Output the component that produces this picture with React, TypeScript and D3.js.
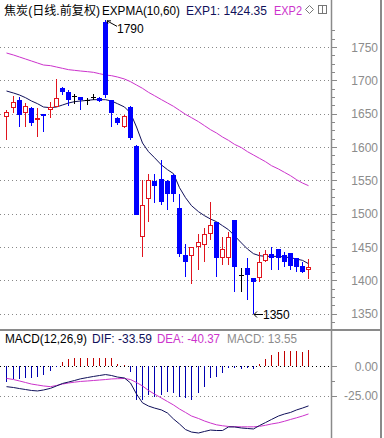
import React from 'react';
import * as d3 from 'd3';

const opens = [1645, 1659, 1670, 1651, 1658, 1642, 1650, 1655, 1660, 1688, 1683, 1676, 1675, 1670, 1675, 1673, 1788, 1670, 1643, 1630, 1660, 1601, 1465, 1522, 1549, 1552, 1549, 1558, 1508, 1438, 1437, 1450, 1453, 1469, 1488, 1433, 1433, 1490, 1408, 1418, 1403, 1403, 1429, 1439, 1447, 1438, 1441, 1433, 1421, 1415];
const highs = [1655, 1677, 1675, 1666, 1660, 1658, 1650, 1668, 1702, 1690, 1685, 1680, 1675, 1674, 1680, 1675, 1790, 1670, 1645, 1648, 1662, 1603, 1550, 1560, 1560, 1580, 1550, 1560, 1530, 1455, 1450, 1470, 1478, 1518, 1488, 1465, 1473, 1490, 1418, 1433, 1403, 1443, 1445, 1450, 1447, 1443, 1441, 1433, 1428, 1432];
const lows = [1610, 1651, 1630, 1630, 1631, 1615, 1623, 1643, 1660, 1678, 1661, 1665, 1656, 1663, 1670, 1667, 1673, 1630, 1633, 1628, 1610, 1498, 1435, 1488, 1516, 1513, 1505, 1518, 1435, 1405, 1395, 1415, 1428, 1460, 1405, 1423, 1423, 1383, 1383, 1370, 1350, 1398, 1428, 1415, 1415, 1420, 1415, 1413, 1411, 1402];
const closes = [1653, 1668, 1648, 1661, 1636, 1643, 1647, 1660, 1673, 1683, 1670, 1676, 1670, 1670, 1675, 1669, 1678, 1651, 1636, 1647, 1613, 1498, 1513, 1551, 1542, 1517, 1530, 1530, 1440, 1428, 1450, 1458, 1470, 1483, 1433, 1447, 1465, 1420, 1408, 1408, 1398, 1428, 1439, 1433, 1433, 1428, 1421, 1420, 1413, 1420];

const exp1 = [1684, 1681, 1678, 1674, 1669, 1665, 1660, 1659, 1660, 1663, 1666, 1668, 1669, 1670, 1671, 1671, 1671, 1669, 1665, 1660, 1651, 1630, 1606, 1593, 1584, 1573, 1566, 1560, 1539, 1524, 1512, 1503, 1497, 1492, 1488, 1482, 1476, 1467, 1456, 1447, 1440, 1437, 1436, 1436, 1436, 1435, 1434, 1432, 1430, 1425];
const exp2 = [1741, 1738, 1735, 1732, 1729, 1726, 1723, 1722, 1720, 1718, 1716, 1715, 1714, 1713, 1712, 1710, 1708, 1707, 1705, 1702, 1698, 1693, 1688, 1682, 1677, 1671, 1666, 1661, 1655, 1649, 1644, 1638, 1632, 1626, 1621, 1615, 1610, 1604, 1599, 1593, 1588, 1583, 1578, 1572, 1567, 1562, 1557, 1551, 1546, 1542];

const dif = [-17.4, -18.1, -19, -19.8, -20.6, -21, -20.2, -18.8, -16.8, -14.7, -13.5, -12.2, -10.8, -9.7, -8.8, -8, -7.2, -8, -9.3, -10.1, -14.3, -23.6, -31, -33.7, -35.4, -37, -39.6, -44.6, -48.8, -53.5, -55.6, -56.4, -55.1, -53.9, -54.3, -54.3, -51.3, -51.3, -52.2, -52.6, -53, -50.1, -47.6, -45, -42.1, -40.4, -39.1, -37, -35.4, -33.59];
const dea = [-10.4, -11.4, -12.6, -13.9, -15.2, -16, -16.8, -17.4, -16.4, -15.2, -14.3, -13.6, -13, -12.6, -12.2, -11.8, -11.4, -10.9, -10.7, -10.5, -11.4, -13.9, -16.8, -20.6, -23.6, -27, -29.9, -32.8, -36.2, -39.1, -42.1, -44.2, -46.3, -48, -49.5, -50.3, -50.9, -51.1, -51.2, -51.2, -51.2, -50.8, -49.9, -48.8, -47.8, -46.5, -45, -43.6, -42.1, -40.37];
const macdHist = [-13.2, -11.2, -11.2, -9.8, -10.4, -9, -7.6, -4.2, -0.8, 3.7, 5.6, 6.5, 6.5, 6.5, 6.5, 7, 7, 6.5, 2, 0.5, -4.8, -28.6, -28.6, -24.4, -25.8, -24.4, -21.6, -23, -25.8, -27.2, -28.6, -23, -17.4, -10.4, -9, -6.2, -2, -2, -2.8, -2, -2.8, 1.4, 5.9, 9.3, 12, 12.6, 12.6, 12.6, 12, 13.55];

const priceTicks = [1350, 1400, 1450, 1500, 1550, 1600, 1650, 1700, 1750];
const macdTicks = [0, -25];

const FONT = '"Liberation Sans", Arial, "Noto Sans CJK SC", sans-serif';
const RED = '#e0141e';
const BLUE = '#0000ff';
const NAVY = '#10105a';
const MAGENTA = '#cc33cc';
const FRAME = '#8a8a8a';

const W = 384;
const H = 438;
const AXIS_X = 331;

// label pieces: text, left x, width, colour
const titleParts: [string, number, number, string][] = [
  ['焦炭(日线.前复权)', 4, 96, '#000'],
  ['EXPMA(10,60)', 102, 78, '#000'],
  ['EXP1: 1424.35', 186, 81, NAVY],
  ['EXP2', 274, 28, MAGENTA],
];
const macdParts: [string, number, number, string][] = [
  ['MACD(12,26,9)', 5, 82, '#000'],
  ['DIF: -33.59', 92, 60, NAVY],
  ['DEA: -40.37', 157, 63, MAGENTA],
  ['MACD: 13.55', 227, 70, '#8c8c8c'],
];

const App: React.FC = () => {
  const idx = d3.range(closes.length);
  const x = d3.scaleBand<number>().domain(idx).range([3.9, 312]).padding(0);
  const cx = (i: number) => Math.round((x(i) || 0) + x.bandwidth() / 2 - 0.5);

  const y = d3.scaleLinear().domain([1350, 1750]).range([313.7, 47]);
  const ym = d3.scaleLinear().domain([-25, 0]).range([395.7, 366]);

  const priceLine = d3.line<number>().x((_, i) => cx(i) + 0.5).y(d => y(d));
  const macdLine = d3.line<number>().x((_, i) => cx(i) + 0.5).y(d => ym(d));

  const minorTicks = d3.range(1337.5, 1800, 12.5).filter(v => v % 50 !== 0 && y(v) > 28 && y(v) < 328);

  const hiIdx = d3.maxIndex(highs);
  const loIdx = d3.minIndex(lows);
  const hx = cx(hiIdx), hy = y(highs[hiIdx]);
  const lx = cx(loIdx), ly = Math.round(y(lows[loIdx])) + 0.5;

  const dotted = (yy: number, color: string) => (
    <line x1={0} x2={AXIS_X - 2} y1={Math.round(yy) + 0.5} y2={Math.round(yy) + 0.5}
      stroke={color} strokeWidth={1} strokeDasharray="1,3" />
  );

  const label = (parts: [string, number, number, string][], yy: number) =>
    parts.map(([t, px, w, c]) => (
      <text key={t} x={px} y={yy} fontSize={12} fill={c} textLength={w} lengthAdjust="spacingAndGlyphs">{t}</text>
    ));

  return (
    <div style={{ position: 'fixed', left: 0, top: 0, width: W, height: H, background: '#fff' }}>
      <svg width={W} height={H} style={{ display: 'block' }} fontFamily={FONT}>
        <rect x={0} y={0} width={W} height={H} fill="#fff" />

        {/* title */}
        {label(titleParts, 15)}
        <path d="M309.5,5.5 L313.5,9.5 L309.5,13.5 L305.5,9.5 Z" fill="none" stroke="#777" strokeWidth={1} />
        <rect x={318.5} y={5.5} width={8} height={8} fill="none" stroke="#777" strokeWidth={1} />
        <line x1={322.5} x2={322.5} y1={5.5} y2={13.5} stroke="#777" strokeWidth={1} />

        {/* price grid */}
        {priceTicks.map(t => <g key={t}>{dotted(y(t), '#888')}</g>)}

        {/* EXPMA lines */}
        <path d={priceLine(exp2) || ''} fill="none" stroke={MAGENTA} strokeWidth={1} />
        <path d={priceLine(exp1) || ''} fill="none" stroke={NAVY} strokeWidth={1} />

        {/* candles */}
        {idx.map(i => {
          const o = opens[i], c = closes[i], h = highs[i], l = lows[i];
          const px = cx(i) + 0.5;
          const top = Math.round(y(Math.max(o, c)));
          const bot = Math.round(y(Math.min(o, c)));
          const yh = Math.round(y(h));
          const yl = Math.round(y(l));
          if (o === c) {
            return (
              <g key={i}>
                <line x1={px} x2={px} y1={yh} y2={yl} stroke="#000" />
                <line x1={px - 2.5} x2={px + 2.5} y1={top + 0.5} y2={top + 0.5} stroke="#000" />
              </g>
            );
          }
          if (c > o) {
            return (
              <g key={i}>
                <line x1={px} x2={px} y1={yh} y2={top} stroke={RED} />
                <line x1={px} x2={px} y1={bot} y2={yl} stroke={RED} />
                <rect x={px - 2} y={top + 0.5} width={4} height={Math.max(bot - top - 1, 1)} fill="#fff" stroke={RED} />
              </g>
            );
          }
          return (
            <g key={i}>
              <line x1={px} x2={px} y1={yh} y2={yl} stroke={BLUE} />
              <rect x={px - 2.5} y={top} width={5} height={Math.max(bot - top, 1)} fill={BLUE} />
            </g>
          );
        })}

        {/* high / low marks */}
        <g stroke="#000" strokeWidth={1} fill="none">
          <path d={`M${hx + 2},${hy + 0.5} L${hx + 12},${hy + 6}`} />
          <path d={`M${hx + 2},${hy + 0.5} l4,0 M${hx + 2},${hy + 0.5} l1,3`} />
          <path d={`M${lx + 1},${ly} L${lx + 10},${ly}`} />
          <path d={`M${lx + 1},${ly} l3,-3 M${lx + 1},${ly} l3,3`} />
        </g>
        <text x={hx + 12} y={hy + 13} fontSize={12} fill="#000">{highs[hiIdx]}</text>
        <text x={lx + 10} y={ly + 4} fontSize={12} fill="#000">{lows[loIdx]}</text>

        {/* price axis */}
        {priceTicks.map(t => (
          <g key={t}>
            <line x1={AXIS_X} x2={AXIS_X + 6} y1={Math.round(y(t)) + 0.5} y2={Math.round(y(t)) + 0.5} stroke={FRAME} />
            <text x={378} y={y(t) + 4.5} fontSize={12} fill="#8c8c8c" textAnchor="end">{t}</text>
          </g>
        ))}
        {minorTicks.map(t => (
          <line key={t} x1={AXIS_X} x2={AXIS_X + 4} y1={Math.round(y(t)) + 0.5} y2={Math.round(y(t)) + 0.5} stroke={FRAME} />
        ))}

        {/* MACD panel */}
        {label(macdParts, 343)}
        {dotted(ym(0), '#000')}
        {dotted(ym(-25), '#888')}
        {idx.map(i => (
          <line key={i} x1={cx(i) + 0.5} x2={cx(i) + 0.5}
            y1={Math.round(ym(0))} y2={Math.round(ym(macdHist[i]))}
            stroke={macdHist[i] >= 0 ? '#c00000' : '#0000b0'} strokeWidth={1} />
        ))}
        <path d={macdLine(dea) || ''} fill="none" stroke={MAGENTA} strokeWidth={1} />
        <path d={macdLine(dif) || ''} fill="none" stroke={NAVY} strokeWidth={1} />
        {macdTicks.map(t => (
          <g key={t}>
            <line x1={AXIS_X} x2={AXIS_X + 6} y1={Math.round(ym(t)) + 0.5} y2={Math.round(ym(t)) + 0.5} stroke={FRAME} />
            <text x={378} y={ym(t) + 4.5} fontSize={12} fill="#8c8c8c" textAnchor="end">{t.toFixed(2)}</text>
          </g>
        ))}
        <line x1={AXIS_X} x2={AXIS_X + 4} y1={Math.round(ym(-12.5)) + 0.5} y2={Math.round(ym(-12.5)) + 0.5} stroke={FRAME} />

        {/* frame */}
        <line x1={AXIS_X + 0.5} x2={AXIS_X + 0.5} y1={0} y2={H} stroke={FRAME} strokeWidth={1.5} />
        <line x1={381} x2={381} y1={0} y2={H} stroke={FRAME} strokeWidth={2} />
        <line x1={0} x2={382} y1={330} y2={330} stroke={FRAME} strokeWidth={2} />
      </svg>
    </div>
  );
};

export default App;
